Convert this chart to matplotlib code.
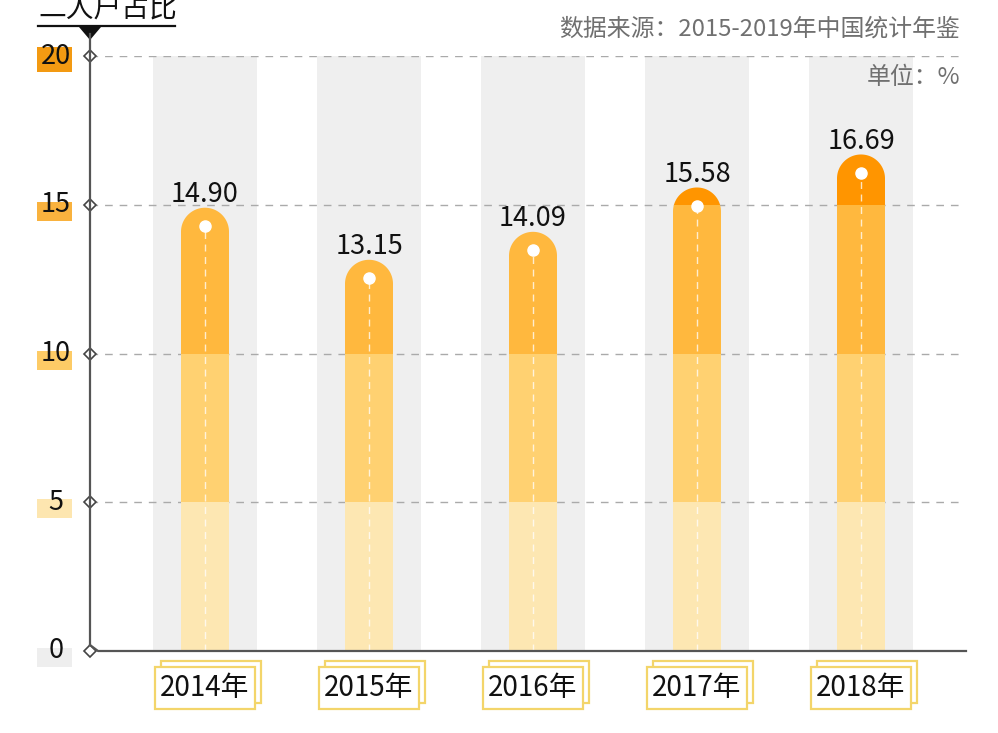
import numpy as np
import matplotlib
matplotlib.use('Agg')
import matplotlib.pyplot as plt
from matplotlib.patches import Rectangle, PathPatch, Polygon
from matplotlib.path import Path
from matplotlib.lines import Line2D
from matplotlib.transforms import offset_copy

plt.rcParams['font.family'] = ['Noto Sans CJK SC', 'DejaVu Sans']

# ---- data ----
years = ['2014年', '2015年', '2016年', '2017年', '2018年']
values = [14.90, 13.15, 14.09, 15.58, 16.69]
value_labels = ['14.90', '13.15', '14.09', '15.58', '16.69']
yticks = [0, 5, 10, 15, 20]
title = '二人户占比'
source = '数据来源：2015-2019年中国统计年鉴'
unit = '单位：%'

# ---- style ----
band_edges = [0, 5, 10, 15, 20]
band_colors = ['#FDE7B2', '#FFD171', '#FFB83E', '#FF9500']
tick_box_colors = ['#EEEEEE', '#FDE6B0', '#FDCB66', '#F9B23E', '#F39A12']

W, H = 998, 733
fig = plt.figure(figsize=(W / 100, H / 100), dpi=100)
L, R, T, B = 90, 966, 56, 651
ax = fig.add_axes([L / W, 1 - B / H, (R - L) / W, (B - T) / H])
x0px, dxpx = 205, 164
xmin = (L - x0px) / dxpx
xmax = (R - x0px) / dxpx
ax.set_xlim(xmin, xmax)
ax.set_ylim(0, 20)
ax.axis('off')
pxy = (B - T) / 20.0


def fp(px, py):
    return (px / W, 1 - py / H)


hw = 24 / dxpx          # bar half-width in data units
ry = 24 / pxy           # cap radius in y data units
gw = 104 / dxpx         # gray column width

xs = np.arange(len(values))

# gray columns
for x in xs:
    ax.add_patch(Rectangle((x - gw / 2, 0), gw, 20, facecolor='#EFEFEF',
                           edgecolor='none', zorder=0))

# gridlines
gx_end = (962 - x0px) / dxpx
for yv in yticks[1:]:
    ax.plot([xmin, gx_end], [yv, yv], color='#AAAAAA', lw=1,
            ls=(0, (5.5, 5)), zorder=1)

# bars
t = np.linspace(0, np.pi, 60)
for x, v, lab in zip(xs, values, value_labels):
    verts = [(x - hw, 0), (x + hw, 0), (x + hw, v - ry)]
    verts += [(x + hw * np.cos(a), v - ry + ry * np.sin(a)) for a in t]
    verts += [(x - hw, v - ry), (x - hw, 0)]
    codes = [Path.MOVETO] + [Path.LINETO] * (len(verts) - 2) + [Path.CLOSEPOLY]
    clip = PathPatch(Path(verts, codes), facecolor='none', edgecolor='none',
                     transform=ax.transData)
    ax.add_patch(clip)
    for (lo, hi), c in zip(zip(band_edges[:-1], band_edges[1:]), band_colors):
        r = Rectangle((x - hw, lo), 2 * hw, hi - lo, facecolor=c,
                      edgecolor='none', zorder=2)
        ax.add_patch(r)
        r.set_clip_path(clip)
    dot_y = v - 0.62
    ax.plot([x, x], [0, dot_y], color='white', lw=1.0, ls=(0, (5, 4)),
            alpha=0.75, zorder=3)
    ax.plot([x], [dot_y], 'o', ms=8, mfc='white', mec='white', zorder=4)
    ax.text(x, v + 0.18, lab, ha='center', va='baseline', fontsize=19.5,
            color='#111111', zorder=5)

# y tick labels with color boxes
for yv, bc in zip(yticks, tick_box_colors):
    py = B - yv * pxy
    top = py - (9 if yv == 20 else 3)
    bot = py + 16
    fig.patches.append(Rectangle(fp(37, bot), 35 / W, (bot - top) / H,
                                 transform=fig.transFigure, facecolor=bc,
                                 edgecolor='none', zorder=0))
    fig.text(56 / W, 1 - py / H, str(yv), ha='center', va='center',
             fontsize=19.5, color='#111111', zorder=3)
    ax.plot([xmin], [yv], marker='D', ms=6, mfc='white', mec='#444444',
            mew=1.2, clip_on=False, zorder=6)

# axis lines
fig.add_artist(Line2D([fp(90, 645)[0], fp(90, 34)[0]],
                      [fp(90, 645)[1], fp(90, 34)[1]],
                      color='#555555', lw=1.6, zorder=5))
fig.add_artist(Line2D([fp(90, 645)[0], fp(98, 651)[0], fp(966, 651)[0]],
                      [fp(90, 645)[1], fp(98, 651)[1], fp(966, 651)[1]],
                      color='#555555', lw=1.6, zorder=5))

# title, underline, triangle
fig.text(38 / W, 1 - 17 / H, title, ha='left', va='baseline', fontsize=20,
         color='#111111')
fig.add_artist(Line2D([38 / W, 175 / W], [1 - 26 / H, 1 - 26 / H],
                      color='#111111', lw=1.6))
fig.add_artist(Polygon([fp(79, 27), fp(101, 27), fp(90, 40)], closed=True,
                       facecolor='#111111', edgecolor='none',
                       transform=fig.transFigure))

# source and unit
fig.text(960 / W, 1 - 29 / H, source, ha='right', va='center', fontsize=17.2,
         color='#707070')
fig.text(960 / W, 1 - 77 / H, unit, ha='right', va='center', fontsize=17.2,
         color='#707070')

# year labels with double boxes
yl = -(688 - B) / pxy
back_tr = offset_copy(ax.transData, fig=fig, x=6, y=6, units='dots')
for x, yr in zip(xs, years):
    ax.text(x, yl, yr, ha='center', va='center', fontsize=20, color='white',
            transform=back_tr, clip_on=False, zorder=5,
            bbox=dict(boxstyle='square,pad=0.2', facecolor='white',
                      edgecolor='#F3D56A', lw=1.6))
    ax.text(x, yl, yr, ha='center', va='center', fontsize=20, color='#111111',
            clip_on=False, zorder=6,
            bbox=dict(boxstyle='square,pad=0.2', facecolor='white',
                      edgecolor='#F3D56A', lw=1.6))

fig.savefig('out.png', dpi=100, facecolor='white')
